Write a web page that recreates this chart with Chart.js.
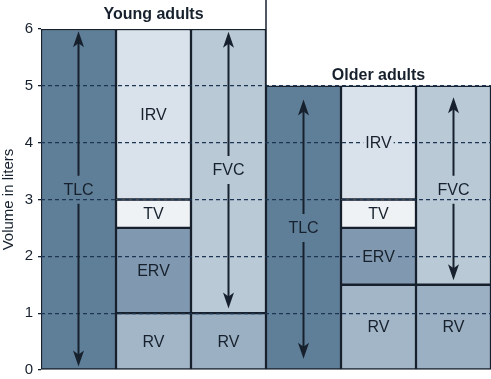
<!DOCTYPE html>
<html>
<head>
<meta charset="utf-8">
<script src="https://cdn.jsdelivr.net/npm/chart.js@4"></script>
<style>
  html, body { margin: 0; padding: 0; background: #fff; }
  #wrap { width: 491px; height: 379px; }
</style>
</head>
<body>
<div id="wrap"><canvas id="myCanvas" width="491" height="379"></canvas></div>
<script>
// columns of the figure, 3 per age group
const columns = ["Young TLC", "Young volumes", "Young FVC", "Older TLC", "Older volumes", "Older FVC"];
const groups = ["Young adults", "Older adults"];
const yTicks = [0, 1, 2, 3, 4, 5, 6];

// stacked segments (liters), bottom to top
const tlc = [6, null, null, 5, null, null];
const rv = [null, 1, 1, null, 1.5, 1.5];
const erv = [null, 1.5, null, null, 1, null];
const tv = [null, 0.5, null, null, 0.5, null];
const irv = [null, 3, null, null, 2, null];
const fvc = [null, null, 5, null, null, 3.5];

// double arrows for TLC / FVC
const arrowCols = [0, 2, 3, 5];
const arrowNames = ["TLC", "FVC", "TLC", "FVC"];
const arrowTop = [5.96, 5.95, 4.76, 4.8];
const arrowBottom = [0.06, 1.08, 0.2, 1.58];
const arrowLabelAt = [3.17, 3.52, 2.5, 3.17];

const ink = "#17212d";
const fontName = "'Liberation Sans', Arial, Helvetica, sans-serif";

function drawHead(ctx, x, y, dir) {
  // dir -1 = pointing up, 1 = pointing down
  ctx.beginPath();
  ctx.moveTo(x, y);
  ctx.lineTo(x - 5.5, y - dir * 16);
  ctx.lineTo(x, y - dir * 12);
  ctx.lineTo(x + 5.5, y - dir * 16);
  ctx.closePath();
  ctx.fill();
}

const overlay = {
  id: "overlay",
  afterDraw(chart) {
    const ctx = chart.ctx;
    const xs = chart.scales.x, ys = chart.scales.y;
    ctx.save();

    // labels inside segments
    ctx.font = "16px " + fontName;
    ctx.textAlign = "center";
    ctx.textBaseline = "middle";
    chart.data.datasets.forEach((ds, i) => {
      if (!ds.segLabel) return;
      chart.getDatasetMeta(i).data.forEach((el, j) => {
        if (ds.data[j] == null) return;
        const cy = (el.y + el.base) / 2;
        const w = ctx.measureText(ds.label).width;
        ctx.fillStyle = Array.isArray(ds.backgroundColor) ? ds.backgroundColor[j] : ds.backgroundColor;
        ctx.fillRect(el.x - w / 2 - 2, cy - 8, w + 4, 16);
        ctx.fillStyle = ink;
        ctx.fillText(ds.label, el.x, cy + 1);
      });
    });

    // arrows
    ctx.strokeStyle = ink;
    ctx.fillStyle = ink;
    ctx.lineWidth = 2;
    arrowCols.forEach((c, k) => {
      const x = xs.getPixelForValue(c);
      const yt = ys.getPixelForValue(arrowTop[k]);
      const yb = ys.getPixelForValue(arrowBottom[k]);
      const yl = ys.getPixelForValue(arrowLabelAt[k]);
      ctx.beginPath();
      ctx.moveTo(x, yt + 10);
      ctx.lineTo(x, yl - 14);
      ctx.moveTo(x, yl + 14);
      ctx.lineTo(x, yb - 10);
      ctx.stroke();
      drawHead(ctx, x, yt, -1);
      drawHead(ctx, x, yb, 1);
      ctx.fillText(arrowNames[k], x, yl + 1);
    });

    // group headers
    const split = (xs.getPixelForValue(2) + xs.getPixelForValue(3)) / 2;
    ctx.lineWidth = 1.5;
    ctx.beginPath();
    ctx.moveTo(split, 0);
    ctx.lineTo(split, ys.getPixelForValue(5));
    ctx.stroke();
    ctx.font = "bold 16px " + fontName;
    ctx.fillText(groups[0], xs.getPixelForValue(1), 15);
    ctx.fillText(groups[1], xs.getPixelForValue(4), ys.getPixelForValue(5) - 10);
    ctx.restore();
  }
};

function seg(label, data, color, segLabel) {
  return {
    label: label,
    data: data,
    backgroundColor: color,
    borderColor: ink,
    borderWidth: 1.5,
    borderSkipped: false,
    categoryPercentage: 1,
    barPercentage: 1,
    segLabel: segLabel
  };
}

const e = document.getElementById("myCanvas").getContext("2d");
new Chart(e, {
  type: "bar",
  data: {
    labels: columns,
    datasets: [
      seg("TLC", tlc, "#5f7e98", false),
      seg("RV", rv, ["#a3b6c8", "#a3b6c8", "#9cb0c3", "#a3b6c8", "#a3b6c8", "#9cb0c3"], true),
      seg("ERV", erv, "#8099b0", true),
      seg("TV", tv, "#eef2f5", true),
      seg("IRV", irv, "#d9e2ea", true),
      seg("FVC", fvc, "#b9c9d6", false)
    ]
  },
  options: {
    responsive: false,
    animation: false,
    layout: { autoPadding: false, padding: { top: 29, bottom: 9, right: 0, left: 0 } },
    plugins: { legend: { display: false }, tooltip: { enabled: false } },
    scales: {
      x: { stacked: true, display: false },
      y: {
        stacked: true,
        min: 0,
        max: 6,
        afterBuildTicks: s => { s.ticks = yTicks.map(v => ({ value: v })); },
        afterFit: s => { s.width = 41; s.paddingTop = 0; s.paddingBottom = 0; },
        ticks: { color: ink, font: { size: 15, family: fontName }, padding: 5 },
        grid: {
          z: 1,
          color: c => (c.tick.value > 0 && c.tick.value < 6) ? "#1c3553" : "rgba(0,0,0,0)",
          lineWidth: 1.3,
          tickLength: 3,
          tickColor: ink
        },
        border: { display: false, dash: [4, 3] },
        title: { display: true, text: "Volume in liters", color: ink, font: { size: 15, family: fontName }, padding: 0 }
      }
    }
  },
  plugins: [overlay]
});
</script>
</body>
</html>
